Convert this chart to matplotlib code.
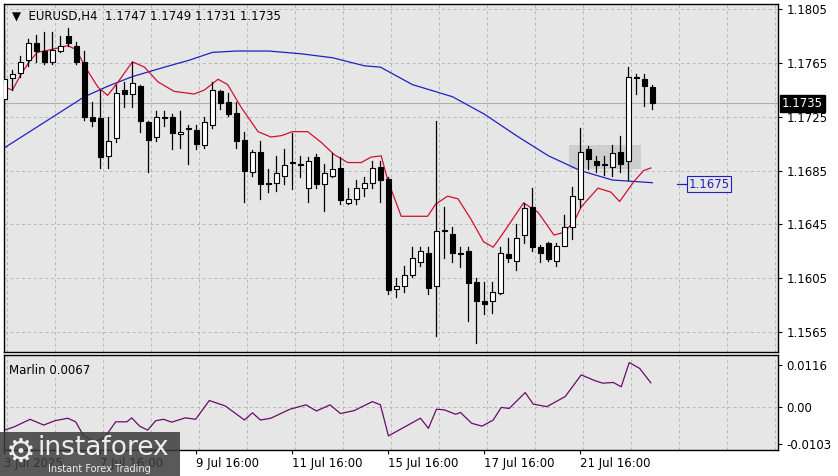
import matplotlib.pyplot as plt
from matplotlib.patches import Rectangle

# EURUSD H4 candles (open, high, low, close)
opens = [1.1738, 1.1754, 1.1758, 1.1767, 1.1780, 1.1774, 1.1766, 1.1774, 1.1785, 1.1778,
         1.1766, 1.1725, 1.1724, 1.1696, 1.1709, 1.1745, 1.1742, 1.1748, 1.1721, 1.1710,
         1.1725, 1.1725, 1.1712, 1.1716, 1.1715, 1.1704, 1.1719, 1.1744, 1.1736, 1.1728,
         1.1708, 1.1684, 1.1699, 1.1676, 1.1676, 1.1681, 1.1691, 1.1690, 1.1672, 1.1695,
         1.1675, 1.1681, 1.1687, 1.1661, 1.1664, 1.1672, 1.1676, 1.1688, 1.1679, 1.1597,
         1.1599, 1.1607, 1.1617, 1.1624, 1.1599, 1.1640, 1.1638, 1.1623, 1.1625, 1.1602,
         1.1588, 1.1588, 1.1594, 1.1623, 1.1618, 1.1637, 1.1658, 1.1628, 1.1631, 1.1618,
         1.1629, 1.1643, 1.1664, 1.1701, 1.1692, 1.1690, 1.1688, 1.1699, 1.1692, 1.1754,
         1.1753, 1.1747]
highs = [1.1790, 1.1760, 1.1770, 1.1783, 1.1786, 1.1788, 1.1788, 1.1785, 1.1791, 1.1781,
         1.1774, 1.1736, 1.1745, 1.1725, 1.1749, 1.1751, 1.1766, 1.1749, 1.1722, 1.1729,
         1.1729, 1.1727, 1.1729, 1.1719, 1.1719, 1.1725, 1.1751, 1.1745, 1.1743, 1.1736,
         1.1714, 1.1700, 1.1707, 1.1686, 1.1696, 1.1701, 1.1713, 1.1696, 1.1695, 1.1697,
         1.1690, 1.1698, 1.1695, 1.1672, 1.1678, 1.1680, 1.1692, 1.1692, 1.1680, 1.1605,
         1.1614, 1.1628, 1.1628, 1.1628, 1.1722, 1.1658, 1.1643, 1.1628, 1.1628, 1.1605,
         1.1602, 1.1602, 1.1628, 1.1635, 1.1645, 1.1661, 1.1672, 1.1630, 1.1632, 1.1631,
         1.1652, 1.1673, 1.1717, 1.1703, 1.1696, 1.1696, 1.1704, 1.1711, 1.1762, 1.1757,
         1.1757, 1.1749]
lows = [1.1725, 1.1745, 1.1755, 1.1763, 1.1766, 1.1764, 1.1764, 1.1773, 1.1778, 1.1764,
        1.1723, 1.1718, 1.1687, 1.1687, 1.1706, 1.1732, 1.1732, 1.1714, 1.1684, 1.1707,
        1.1718, 1.1701, 1.1702, 1.1690, 1.1701, 1.1702, 1.1717, 1.1731, 1.1726, 1.1702,
        1.1662, 1.1681, 1.1664, 1.1669, 1.1670, 1.1675, 1.1671, 1.1680, 1.1662, 1.1672,
        1.1655, 1.1680, 1.1660, 1.1660, 1.1660, 1.1666, 1.1672, 1.1662, 1.1593, 1.1591,
        1.1595, 1.1606, 1.1614, 1.1593, 1.1562, 1.1620, 1.1617, 1.1613, 1.1573, 1.1557,
        1.1578, 1.1579, 1.1593, 1.1617, 1.1611, 1.1631, 1.1625, 1.1617, 1.1618, 1.1614,
        1.1629, 1.1634, 1.1658, 1.1686, 1.1684, 1.1682, 1.1681, 1.1684, 1.1678, 1.1742,
        1.1733, 1.1731]
closes = [1.1753, 1.1757, 1.1766, 1.1780, 1.1774, 1.1766, 1.1775, 1.1778, 1.1780, 1.1766,
          1.1725, 1.1722, 1.1695, 1.1707, 1.1743, 1.1742, 1.1750, 1.1722, 1.1708, 1.1725,
          1.1724, 1.1713, 1.1714, 1.1716, 1.1705, 1.1721, 1.1745, 1.1735, 1.1727, 1.1707,
          1.1685, 1.1699, 1.1675, 1.1675, 1.1683, 1.1689, 1.1691, 1.1689, 1.1692, 1.1675,
          1.1683, 1.1686, 1.1663, 1.1664, 1.1672, 1.1676, 1.1687, 1.1678, 1.1596, 1.1599,
          1.1607, 1.1620, 1.1625, 1.1598, 1.1640, 1.1641, 1.1624, 1.1623, 1.1601, 1.1588,
          1.1586, 1.1595, 1.1624, 1.1620, 1.1635, 1.1657, 1.1628, 1.1624, 1.1619, 1.1629,
          1.1643, 1.1666, 1.1699, 1.1694, 1.1689, 1.1689, 1.1698, 1.1690, 1.1755, 1.1755,
          1.1748, 1.1735]

# slow MA (blue)
blue_idx = [0, 5, 10, 13, 16, 20, 23, 26, 29, 33, 37, 41, 45, 47, 51, 56, 60, 64, 68, 72, 76, 81]
blue_val = [1.1702, 1.1721, 1.1740, 1.1748, 1.1755, 1.1762, 1.1767, 1.1773, 1.1774, 1.1774,
            1.1772, 1.1769, 1.1763, 1.1762, 1.1749, 1.1740, 1.1727, 1.1711, 1.1696, 1.1685,
            1.1678, 1.1676]

# fast MA (red)
red_idx = [0, 1.0, 2.1, 3.1, 4.1, 5.8, 7.9, 9.0, 10.0, 11.7, 12.9, 14.2, 16.0, 17.5, 19.2,
           21.2, 23.7, 25.0, 26.7, 27.9, 29.6, 31.7, 33.3, 34.6, 36.0, 37.9, 39.6, 41.2, 42.9,
           44.6, 45.8, 47.1, 47.9, 49.6, 51.2, 52.9, 53.9, 55.4, 56.7, 58.3, 59.9, 61.1, 62.4,
           64.9, 66.7, 68.7, 69.9, 71.2, 72.1, 74.2, 75.8, 76.9, 78.7, 79.9, 80.8]
red_val = [1.1747, 1.1745, 1.1757, 1.1766, 1.1773, 1.1775, 1.1778, 1.1775, 1.1763, 1.1747,
           1.1741, 1.1751, 1.1766, 1.1762, 1.1751, 1.1744, 1.1742, 1.1745, 1.1753, 1.1749,
           1.1732, 1.1714, 1.1710, 1.1711, 1.1714, 1.1714, 1.1706, 1.1697, 1.1691, 1.1691,
           1.1695, 1.1696, 1.1678, 1.1651, 1.1651, 1.1651, 1.1660, 1.1666, 1.1664, 1.1649,
           1.1632, 1.1628, 1.1639, 1.1661, 1.1654, 1.1637, 1.1639, 1.1647, 1.1658, 1.1672,
           1.1669, 1.1662, 1.1677, 1.1685, 1.1687]

# Marlin oscillator
osc_idx = [0, 1.2, 3.2, 4.9, 6.3, 7.9, 8.9, 9.9, 11.3, 12.6, 13.9, 15.3, 15.9, 16.9, 17.9,
           18.9, 19.9, 20.9, 22.6, 23.9, 25.6, 27.6, 30.0, 31.0, 32.0, 33.3, 35.7, 37.7, 39.0,
           40.7, 42.0, 43.7, 46.0, 47.0, 48.0, 52.0, 53.0, 54.0, 55.0, 56.4, 57.0, 58.4, 59.7,
           61.1, 62.1, 63.1, 65.1, 66.1, 67.8, 70.1, 72.1, 73.8, 74.8, 76.1, 77.1, 78.1, 79.4, 80.8]
osc_val = [-0.0064, -0.0055, -0.0034, -0.0050, -0.0038, -0.0031, -0.0041, -0.0080, -0.0096,
           -0.0082, -0.0041, -0.0041, -0.0030, -0.0053, -0.0064, -0.0038, -0.0034, -0.0042,
           -0.0030, -0.0034, 0.0018, 0.0003, -0.0036, -0.0016, -0.0036, -0.0031, -0.0006,
           0.0006, -0.0011, 0.0006, -0.0018, -0.0010, 0.0015, 0.0006, -0.0080, -0.0031,
           -0.0059, -0.0006, -0.0008, -0.0020, -0.0015, -0.0045, -0.0053, -0.0036, -0.0001,
           -0.0004, 0.0040, 0.0008, 0.0001, 0.0029, 0.0089, 0.0073, 0.0066, 0.0068, 0.0056,
           0.0123, 0.0107, 0.0067]

price_ticks = [1.1805, 1.1765, 1.1725, 1.1685, 1.1645, 1.1605, 1.1565]
osc_ticks = [0.0116, 0.0, -0.0103]
osc_tick_labels = ['0.0116', '0.00', '-0.0103']
date_idx = [0, 12, 24, 36, 48, 60, 72]
date_labels = ['3 Jul 2025', '7 Jul 16:00', '9 Jul 16:00', '11 Jul 16:00', '15 Jul 16:00',
               '17 Jul 16:00', '21 Jul 16:00']
last_price = 1.1735
ma_label = 1.1675
box_lo, box_hi = 1.1686, 1.1704

W, H = 838, 476
bg = '#e6e6e6'
fig = plt.figure(figsize=(W / 100, H / 100), dpi=100, facecolor='white')
ax = fig.add_axes([4 / W, 1 - 352 / H, 774 / W, 348 / H], facecolor=bg)
ax2 = fig.add_axes([4 / W, 1 - 450 / H, 774 / W, 95 / H], facecolor=bg)

xmin, xmax = -0.06, 96.7
for a in (ax, ax2):
    a.set_xlim(xmin, xmax)
    for sp in a.spines.values():
        sp.set_color('black')
        sp.set_linewidth(1)
    for gx in range(-6, 100, 6):
        a.axvline(gx + 0.3, color='#b8b8b8', lw=0.7, ls=(0, (3, 3)), zorder=0)

ax.set_ylim(1.1550, 1.1809)
for p in price_ticks:
    ax.axhline(p, color='#b8b8b8', lw=0.7, ls=(0, (3, 3)), zorder=0)
ax.axhline(last_price, color='#b0b0b0', lw=0.8, zorder=0)

# consolidation box
ax.add_patch(Rectangle((70.6, box_lo), 9.0, box_hi - box_lo, facecolor='#c8c8c8',
                       edgecolor='none', alpha=0.8, zorder=1))

ax.plot(blue_idx, blue_val, color='#2020c0', lw=0.9, zorder=2)
ax.plot(red_idx, red_val, color='#d01030', lw=0.9, zorder=2)

bw = 0.62
for i in range(len(opens)):
    o, h, l, c = opens[i], highs[i], lows[i], closes[i]
    ax.plot([i, i], [l, h], color='black', lw=0.9, zorder=3)
    lo, hi = min(o, c), max(o, c)
    fc = 'white' if c >= o else 'black'
    ax.add_patch(Rectangle((i - bw / 2, lo), bw, max(hi - lo, 0.00005), facecolor=fc,
                           edgecolor='black', lw=0.8, zorder=4))

ax.set_xticks([])
ax.yaxis.tick_right()
ax.set_yticks(price_ticks)
ax.set_yticklabels([f'{p:.4f}' for p in price_ticks], fontsize=8.5)
ax.tick_params(axis='y', length=3, pad=3)

# last price tag and MA label
ax.text(xmax + 0.5, last_price, f'{last_price:.4f}', transform=ax.transData, fontsize=8.5,
        color='white', va='center', ha='left', clip_on=False,
        bbox=dict(facecolor='black', edgecolor='black', pad=1.5))
ax.plot([84.1, 85.4], [ma_label, ma_label], color='#2020c0', lw=0.9)
ax.text(85.5, ma_label, f'{ma_label:.4f}', fontsize=8.5, color='#2020c0', va='center',
        ha='left', bbox=dict(facecolor=bg, edgecolor='#2020c0', pad=1.2, lw=0.8))

ax.text(0.01, 0.985, '\u25BC  EURUSD,H4  1.1747 1.1749 1.1731 1.1735', transform=ax.transAxes,
        fontsize=8.5, va='top', ha='left')

# oscillator
ax2.set_ylim(-0.0119, 0.0144)
ax2.axhline(0, color='#b8b8b8', lw=0.7, ls=(0, (3, 3)), zorder=0)
ax2.plot(osc_idx, osc_val, color='#6a0a6a', lw=0.9)
ax2.yaxis.tick_right()
ax2.set_yticks(osc_ticks)
ax2.set_yticklabels(osc_tick_labels, fontsize=8.5)
ax2.tick_params(axis='y', length=3, pad=3)
ax2.set_xticks(date_idx)
ax2.set_xticklabels(date_labels, fontsize=8.5, ha='left')
ax2.tick_params(axis='x', length=3, pad=2)
ax2.text(0.006, 0.9, 'Marlin 0.0067', transform=ax2.transAxes, fontsize=8.5, va='top')

# watermark (covers the first date labels, as in the original)
fig.patches.append(Rectangle((0, 0), 180 / W, 44 / H, transform=fig.transFigure,
                             facecolor='#3c3c3c', alpha=0.85, zorder=10))
fig.text(38 / W, 28 / H, 'instaforex', fontsize=19, color='white', va='center',
         zorder=11, alpha=0.9)
fig.text(48 / W, 7 / H, 'Instant Forex Trading', fontsize=7, color='white',
         va='center', zorder=11, alpha=0.9)
fig.text(6 / W, 24 / H, '\u2699', fontsize=24, color='white', va='center', zorder=11, alpha=0.9)

fig.savefig('out.png', dpi=100, facecolor='white')
